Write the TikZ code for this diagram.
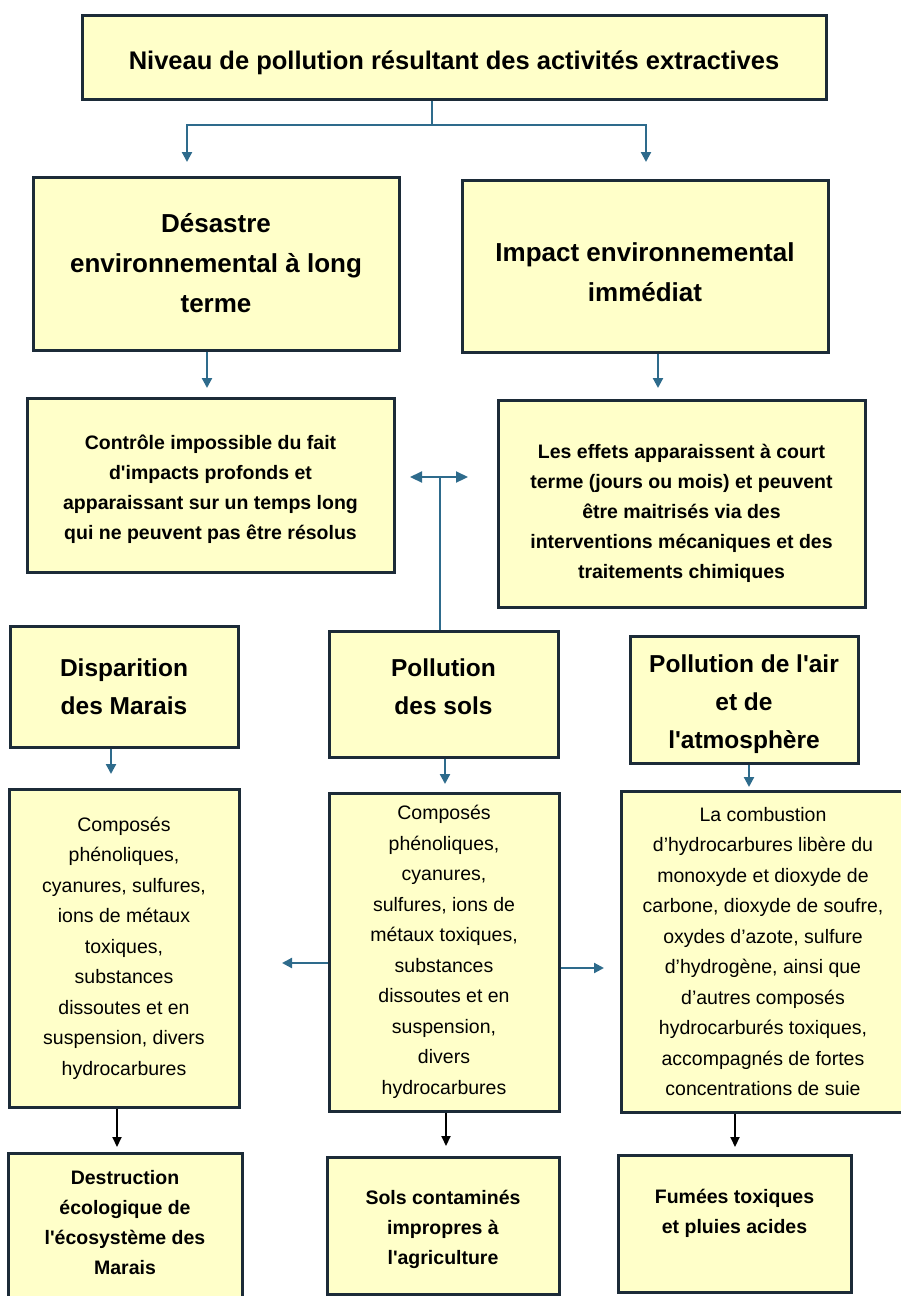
\documentclass[tikz,border=0pt]{standalone}
\usepackage{fontspec}
\setmainfont{Liberation Sans}
\usetikzlibrary{arrows.meta,calc}
\definecolor{boxfill}{HTML}{FFFFC9}
\definecolor{boxline}{HTML}{1C2B38}
\definecolor{arrblue}{HTML}{2E6B8C}
\newcommand\apo{\textquotesingle}
\tikzset{
  box/.style={draw=boxline, line width=3pt, fill=boxfill, align=center, inner sep=2pt},
  fTop/.style={font=\bfseries\fontsize{25.5}{30}\selectfont},
  fHead/.style={font=\bfseries\fontsize{26}{40}\selectfont},
  fSub/.style={font=\bfseries\fontsize{24.5}{38}\selectfont},
  fBody/.style={font=\bfseries\fontsize{19.5}{30}\selectfont},
  fList/.style={font=\fontsize{19.5}{30.5}\selectfont},
  fEnd/.style={font=\bfseries\fontsize{19.5}{30}\selectfont},
  bline/.style={draw=arrblue, line width=2.2pt},
  barrow/.style={bline, -{Triangle[length=10pt,width=10pt]}},
  bdouble/.style={bline, {Triangle[length=12pt,width=11pt]}-{Triangle[length=12pt,width=11pt]}},
  karrow/.style={draw=black, line width=2pt, -{Triangle[length=10pt,width=9pt]}}
}
\begin{document}
\begin{tikzpicture}[x=1pt,y=-1pt]
\useasboundingbox (0,0) rectangle (900,1296);
% row 1
\node[box,minimum width=744pt,minimum height=84pt,
  label={[fTop,align=center,yshift=-6pt]center:{Niveau de pollution résultant des activités extractives}}]
  (top) at (454,57) {};
% row 2
\node[box,fHead,minimum width=366pt,minimum height=173pt] (dis) at (216,263.5)
  {Désastre\\environnemental à long\\terme};
\node[box,minimum width=366pt,minimum height=172pt,
  label={[fHead,align=center,yshift=-6pt]center:{Impact environnemental\\immédiat}}]
  (imp) at (645,266) {};
% row 2b
\node[box,minimum width=367pt,minimum height=174pt,
  label={[fBody,align=center,yshift=-4pt]center:{Contrôle impossible du fait\\d\apo impacts profonds et\\apparaissant sur un temps long\\qui ne peuvent pas être résolus}}]
  (ctrl) at (210.5,485) {};
\node[box,minimum width=367pt,minimum height=207pt,
  label={[fBody,align=center,yshift=-10pt]center:{Les effets apparaissent à court\\terme (jours ou mois) et peuvent\\être maitrisés via des\\interventions mécaniques et des\\traitements chimiques}}]
  (eff) at (681.5,503.5) {};
% row 3
\node[box,fSub,minimum width=228pt,minimum height=121pt] (mar) at (124,686.5)
  {Disparition\\des Marais};
\node[box,minimum width=229pt,minimum height=126pt,
  label={[fSub,align=center,yshift=7pt]center:{Pollution\\des sols}}]
  (sol) at (443.5,694) {};
\node[box,minimum width=228pt,minimum height=127pt,
  label={[fSub,align=center,yshift=-5pt]center:{Pollution de l\apo air\\et de\\l\apo atmosphère}}]
  (air) at (744,699.5) {};
% row 4
\node[box,fList,minimum width=230pt,minimum height=318pt] (marT) at (124,948)
  {Composés\\phénoliques,\\cyanures, sulfures,\\ions de métaux\\toxiques,\\substances\\dissoutes et en\\suspension, divers\\hydrocarbures};
\node[box,fList,minimum width=230pt,minimum height=318pt] (solT) at (444,952)
  {Composés\\phénoliques,\\cyanures,\\sulfures, ions de\\métaux toxiques,\\substances\\dissoutes et en\\suspension,\\divers\\hydrocarbures};
\node[box,fList,minimum width=284pt,minimum height=321pt] (airT) at (763,951.5)
  {La combustion\\d’hydrocarbures libère du\\monoxyde et dioxyde de\\carbone, dioxyde de soufre,\\oxydes d’azote, sulfure\\d’hydrogène, ainsi que\\d’autres composés\\hydrocarburés toxiques,\\accompagnés de fortes\\concentrations de suie};
% row 5
\node[box,minimum width=234pt,minimum height=157pt,
  label={[fEnd,align=center,yshift=9pt]center:{Destruction\\écologique de\\l\apo écosystème des\\Marais}}]
  (marB) at (125,1231.5) {};
\node[box,minimum width=232pt,minimum height=137pt,
  label={[fEnd,align=center,yshift=-4pt]center:{Sols contaminés\\impropres à\\l\apo agriculture}}]
  (solB) at (443,1225.5) {};
\node[box,minimum width=233pt,minimum height=137pt,
  label={[fEnd,align=center,yshift=10pt]center:{Fumées toxiques\\et pluies acides}}]
  (airB) at (734.5,1223.5) {};
% connectors
\coordinate (j) at (432,125);
\coordinate (aL) at (187,162);
\coordinate (aR) at (646,162);
\draw[bline] (top.south -| j) -- (j);
\draw[barrow] (j) -| (aL);
\draw[barrow] (j) -| (aR);
\coordinate (c1) at (207,388);
\coordinate (c2) at (658,388);
\draw[barrow] (dis.south -| c1) -- (c1);
\draw[barrow] (imp.south -| c2) -- (c2);
\coordinate (dj) at (440,477);
\draw[bline] (sol.north -| dj) -- (dj);
\draw[bdouble] ($(dj)+(-30,0)$) -- ($(dj)+(28,0)$);
\coordinate (d1) at (111,774);
\coordinate (d2) at (445,784);
\coordinate (d3) at (749,787);
\draw[barrow] (mar.south -| d1) -- (d1);
\draw[barrow] (sol.south -| d2) -- (d2);
\draw[barrow] (air.south -| d3) -- (d3);
\coordinate (lt) at (282,963);
\coordinate (rt) at (604,968);
\draw[barrow] (solT.west |- lt) -- (lt);
\draw[barrow] (solT.east |- rt) -- (rt);
\coordinate (e1) at (117,1147);
\coordinate (e2) at (446,1146);
\coordinate (e3) at (735,1147);
\draw[karrow] (marT.south -| e1) -- (e1);
\draw[karrow] (solT.south -| e2) -- (e2);
\draw[karrow] (airT.south -| e3) -- (e3);
\end{tikzpicture}
\end{document}
